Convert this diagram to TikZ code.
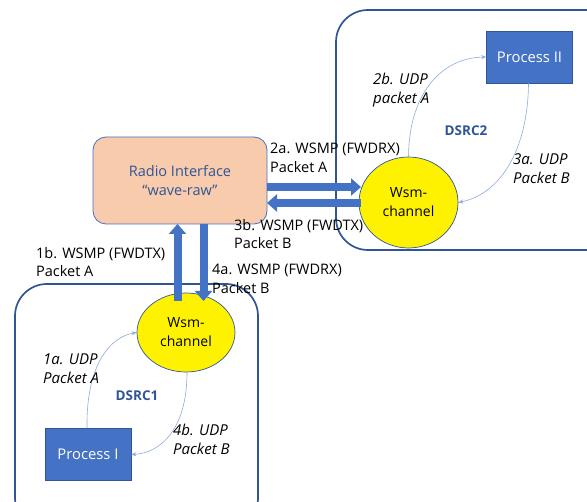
\documentclass[tikz,border=0pt]{standalone}
\usepackage{fontspec}
\setmainfont{Open Sans}
\usetikzlibrary{arrows.meta,shapes.geometric}
\definecolor{accent}{HTML}{4472C4}
\definecolor{darkblue}{HTML}{2F5597}
\definecolor{peach}{HTML}{F8CBAD}
\definecolor{thinline}{HTML}{8FAADC}
\tikzset{
  region/.style={draw=darkblue, line width=1.7pt, rounded corners=32pt},
  procbox/.style={draw=darkblue, line width=0.6pt, fill=accent, text=white, minimum width=86pt, minimum height=52pt, font=\fontsize{14.8}{17}\selectfont},
  channel/.style={draw=darkblue, line width=0.7pt, fill=yellow, ellipse, align=center, inner sep=0pt, font=\fontsize{14}{19}\selectfont},
  radiobox/.style={draw=accent, line width=0.8pt, fill=peach, rounded corners=13pt, minimum width=174pt, minimum height=87pt, align=center, text=darkblue, font=\fontsize{14.5}{19.5}\selectfont},
  biglink/.style={draw=accent, line width=8pt, -{Triangle[length=10pt,width=17pt]}},
  udplink/.style={draw=thinline, line width=0.6pt, -{Stealth[length=5pt,width=4pt]}},
  wsmplabel/.style={align=left, anchor=north west, inner sep=0pt, font=\fontsize{14.5}{18.5}\selectfont},
  udplabel/.style={align=left, anchor=north west, inner sep=0pt, font=\itshape\fontsize{15}{19}\selectfont},
  dsrclabel/.style={text=darkblue, font=\bfseries\fontsize{13.5}{16}\selectfont}
}
\begin{document}
\begin{tikzpicture}[x=1pt, y=-1pt]
\useasboundingbox (0,0) rectangle (587,502);
\begin{scope}
\clip (0,0) rectangle (587,502);
% the two DSRC regions, running off the page edge
\draw[region] (336,10) rectangle (620,250);
\draw[region] (15,284) rectangle (258,530);
\end{scope}

% radio interface
\node[radiobox] (radio) at (180,180.5) {Radio Interface\\“wave-raw”};

% channels
\node[channel, minimum width=99pt, minimum height=91pt] (wsmB) at (408.5,202.5) {Wsm-\\channel};
\node[channel, minimum width=98pt, minimum height=79pt] (wsmA) at (186,332.5) {Wsm-\\channel};

% processes
\node[procbox] (procB) at (529.5,57) {Process II};
\node[procbox] (procA) at (88,454.5) {Process I};

% end points of the thick links
\coordinate (radioE1) at (267,187);
\coordinate (radioE2) at (267,203);
\coordinate (radioS1) at (177.5,224);
\coordinate (radioS2) at (203.5,224);
\coordinate (wsmBW1) at (361,187);
\coordinate (wsmBW2) at (361,203);
\coordinate (wsmAN1) at (177.5,301);
\coordinate (wsmAN2) at (203.5,301);

\draw[biglink] (radioE1) -- (wsmBW1);
\draw[biglink] (wsmBW2) -- (radioE2);
\draw[biglink] (wsmAN1) -- (radioS1);
\draw[biglink] (radioS2) -- (wsmAN2);

% UDP links inside the regions
\draw[udplink] (wsmB.north) .. controls (409,95) and (440,58) .. (procB.west);
\draw[udplink] ([xshift=-1pt]procB.south) .. controls (528,150) and (500,194) .. (wsmB.east);
\draw[udplink] ([xshift=-1pt]procA.north) .. controls (86,365) and (110,337) .. (wsmA.west);
\draw[udplink] ([xshift=1pt]wsmA.south) .. controls (187,430) and (160,453) .. (procA.east);

% labels
\node[wsmplabel] (l2a) at (270,143) {2a. WSMP (FWDRX)\\Packet A};
\node[wsmplabel] (l3b) at (234,219) {3b. WSMP (FWDTX)\\Packet B};
\node[wsmplabel] (l1b) at (36,247) {1b. WSMP (FWDTX)\\Packet A};
\node[wsmplabel] (l4a) at (212,264) {4a. WSMP (FWDRX)\\Packet B};

\node[udplabel] (l2b) at (373,73) {2b. UDP\\packet A};
\node[udplabel] (l3a) at (513,153) {3a. UDP\\Packet B};
\node[udplabel] (l1a) at (43,354) {1a. UDP\\Packet A};
\node[udplabel] (l4b) at (173,424) {4b. UDP\\Packet B};

\node[dsrclabel] (dsrc2) at (466,131) {DSRC2};
\node[dsrclabel] (dsrc1) at (137,396) {DSRC1};
\end{tikzpicture}
\end{document}
